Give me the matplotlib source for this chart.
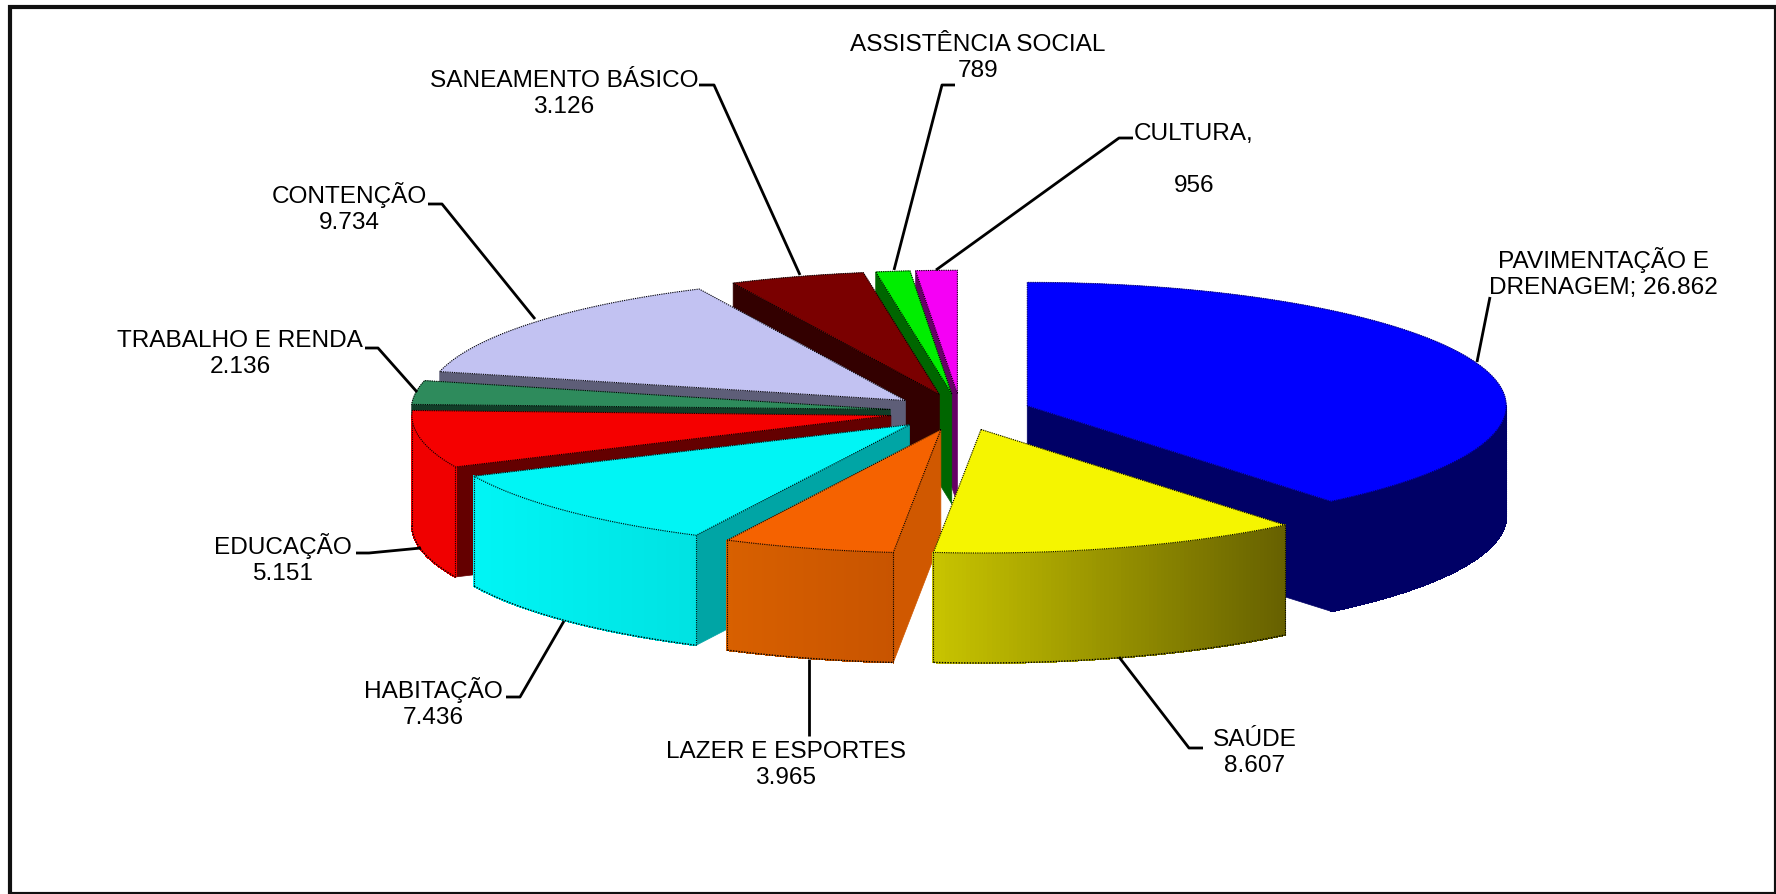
import numpy as np
import matplotlib
matplotlib.use("Agg")
import matplotlib.pyplot as plt
from matplotlib.patches import Rectangle

plt.rcParams['font.family'] = ['Liberation Sans', 'DejaVu Sans']

categories = ["PAVIMENTAÇÃO E\nDRENAGEM; ", "SAÚDE\n", "LAZER E ESPORTES\n", "HABITAÇÃO\n", "EDUCAÇÃO\n",
              "TRABALHO E RENDA\n", "CONTENÇÃO\n", "SANEAMENTO BÁSICO\n", "ASSISTÊNCIA SOCIAL\n", "CULTURA,\n\n"]
values = [26862, 8607, 3965, 7436, 5151, 2136, 9734, 3126, 789, 956]

top_colors = ["#0000FF", "#F5F500", "#F56200", "#00F5F5", "#F50000", "#2E8B5C", "#C2C2F2", "#7A0000", "#00EE00", "#F500F5"]
face_colors = ["#000066", "#666600", "#D05800", "#00A5A5", "#640000", "#113D28", "#5E5E78", "#330000", "#006600", "#660066"]
wall_left = ["#000066", "#C8C400", "#D86000", "#00F5F5", "#F00000", "#113D28", "#5E5E78", "#330000", "#006600", "#660066"]
wall_right = ["#000066", "#666000", "#C85400", "#00E2E2", "#F00000", "#113D28", "#5E5E78", "#330000", "#006600", "#660066"]

# pie geometry in pixels
CX, CY = 960.5, 412
RX, RY = 479, 123.5
DEPTH = 110
EXPLODE = 0.148
# back to front, saude sits over the blue wall
draw_order = [9, 8, 7, 6, 5, 4, 3, 2, 0, 1]

label_pos = [(1603, 273), (1255, 753), (786, 765), (433, 703), (283, 559),
             (240, 354), (349, 208), (564, 94), (978, 58), (1194, 160)]

leaders = [
    [(1477, 362), (1490, 297)],
    [(1203, 748), (1189, 748), (1119, 657)],
    [(809, 736), (809, 659)],
    [(506, 697), (520, 697), (564, 621)],
    [(356, 553), (369, 553), (421, 548)],
    [(365, 348), (378, 348), (417, 392)],
    [(428, 204), (442, 204), (535, 319)],
    [(699, 85), (714, 85), (800, 275)],
    [(894, 270), (942, 85), (955, 85)],
    [(936, 270), (1119, 138), (1133, 138)],
]


def lerp_color(c0, c1, f):
    a = np.array(matplotlib.colors.to_rgb(c0))
    b = np.array(matplotlib.colors.to_rgb(c1))
    return a + (b - a) * f


def arc(cx, cy, a0, a1, n=80):
    t = np.radians(np.linspace(a0, a1, n))
    return cx + RX * np.cos(t), cy - RY * np.sin(t)


fig = plt.figure(figsize=(17.76, 8.94), dpi=100)
ax = fig.add_axes([0, 0, 1, 1])
ax.set_xlim(0, 1776)
ax.set_ylim(894, 0)
ax.axis('off')

sweep = np.array(values) / sum(values) * 360
starts = 90 - np.concatenate([[0], np.cumsum(sweep)[:-1]])
ends = starts - sweep

for i in draw_order:
    a0, a1 = starts[i], ends[i]
    mid = np.radians((a0 + a1) / 2)
    ax_x = CX + EXPLODE * RX * np.cos(mid)
    ax_y = CY - EXPLODE * RY * np.sin(mid)
    edge = face_colors[0] if i == 0 else 'black'

    # cut faces
    for ang, show in ((a0, np.cos(np.radians(a0)) < -1e-6), (a1, i == 0)):
        if show:
            ex, ey = arc(ax_x, ax_y, ang, ang, 1)
            ax.fill([ax_x, ex[0], ex[0], ax_x], [ax_y, ey[0], ey[0] + DEPTH, ax_y + DEPTH],
                    color=face_colors[i], lw=0.5, zorder=2)

    # outer wall, front half only, in strips for the shading
    hi, lo = min(a0, 0), max(a1, -180)
    if hi > lo:
        xs, ys = arc(ax_x, ax_y, lo, hi, 90)
        span = xs.max() - xs.min()
        for j in range(len(xs) - 1):
            f = (min(xs[j], xs[j + 1]) - xs.min()) / span
            ax.fill([xs[j], xs[j + 1], xs[j + 1], xs[j]],
                    [ys[j], ys[j + 1], ys[j + 1] + DEPTH, ys[j] + DEPTH],
                    color=lerp_color(wall_left[i], wall_right[i], f), lw=0.8, antialiased=False, zorder=2)
        ax.plot(xs, ys + DEPTH, color=edge, lw=1.0, ls=(0, (1, 1)), zorder=2)
        ax.plot([xs[0], xs[0]], [ys[0], ys[0] + DEPTH], color=edge, lw=0.8, ls=(0, (1, 1)), zorder=2)
        ax.plot([xs[-1], xs[-1]], [ys[-1], ys[-1] + DEPTH], color=edge, lw=0.8, ls=(0, (1, 1)), zorder=2)

    # top of the slice
    xs, ys = arc(ax_x, ax_y, a0, a1)
    ax.fill(np.r_[ax_x, xs], np.r_[ax_y, ys], color=top_colors[i], lw=0.3, zorder=2)
    ax.plot(np.r_[ax_x, xs, ax_x], np.r_[ax_y, ys, ax_y], color=edge, lw=0.8, ls=(0, (1, 1)), zorder=2)

for line in leaders:
    ax.plot(*zip(*line), color='black', lw=2.0, solid_capstyle='butt', zorder=3)

for name, val, (x, y) in zip(categories, values, label_pos):
    txt = name + f"{val:,}".replace(",", ".")
    ax.text(x, y, txt, ha='center', va='center', fontsize=17.6, linespacing=1.22, color='black', zorder=4)

ax.add_patch(Rectangle((10, 7), 1766, 887, fill=False, edgecolor='#101010', lw=3.0, zorder=5))

fig.savefig("out.png", dpi=100)
